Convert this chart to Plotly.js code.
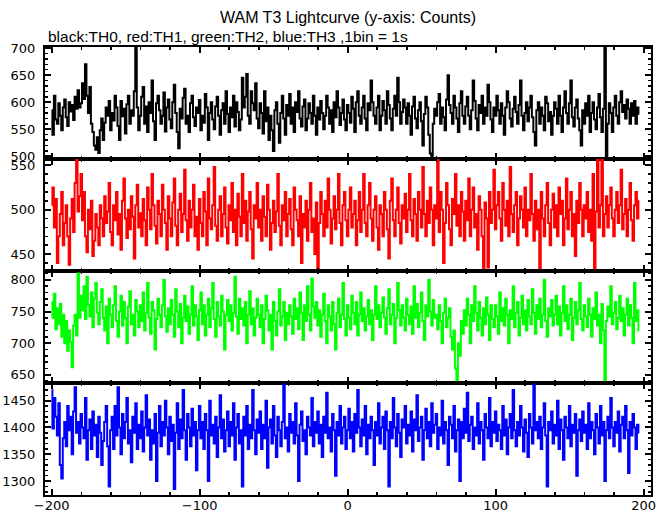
<!DOCTYPE html>
<html>
<head>
<meta charset="utf-8">
<script src="https://cdn.plot.ly/plotly-3.0.1.min.js"></script>
<style>html,body{margin:0;padding:0;background:#fff;}#chart{width:669px;height:515px;}</style>
</head>
<body>
<div id="chart"></div>
<script>
// Time bins: 1 bin = 1 s, first bin centre at -200 s
const binStart = -200;
const binWidth = 1;

// TH0 (black) counts per bin
const th0 = [
585,540,612,568,560,598,575,548,590,605,572,556,600,583,595,567,610,588,622,590,
598,635,606,670,612,580,628,560,545,520,512,535,506,548,570,530,562,590,575,602,
548,580,566,612,590,556,530,602,574,588,542,596,612,560,585,575,620,725,590,548,
575,610,628,560,592,545,600,580,640,565,530,598,612,585,560,575,618,546,590,605,
568,552,600,632,580,545,515,588,570,608,625,560,575,545,598,612,572,556,590,580,
604,548,575,562,615,590,530,580,600,568,550,592,610,575,540,585,598,560,620,578,
545,590,572,612,555,600,582,548,568,645,590,610,652,575,560,620,598,585,635,570,
552,598,580,542,620,565,590,530,575,548,510,585,600,560,525,580,612,570,540,595,
575,615,560,590,545,600,582,620,570,555,592,605,548,570,598,580,560,612,575,540,
590,568,602,580,550,575,612,590,560,585,545,600,572,620,590,558,580,605,568,548,
595,580,562,610,588,545,600,620,575,560,590,612,570,548,598,585,640,600,575,560,
590,612,548,575,602,585,560,620,595,570,548,588,612,575,645,600,560,582,605,590,
560,598,575,540,592,610,570,552,585,600,565,520,578,610,590,540,505,498,560,588,
575,600,615,560,590,572,548,605,650,595,580,560,612,590,570,545,598,620,575,560,
592,610,575,550,585,640,602,570,548,595,580,612,560,590,575,632,600,568,545,590,
575,612,585,560,598,575,540,590,620,600,570,555,588,610,582,560,595,640,575,548,
580,600,565,590,612,572,545,520,585,600,560,590,575,548,610,598,565,582,540,575,
600,588,560,612,575,545,590,620,580,560,598,640,572,555,590,605,570,548,520,585,
560,598,575,612,545,580,600,568,550,590,615,572,545,588,720,495,560,598,580,545,
590,612,575,560,600,620,582,595,570,605,588,560,598,575,602,560,590,578
];

// TH1 (red) counts per bin
const th1 = [
505,525,480,512,440,470,495,520,460,485,505,470,438,490,512,475,530,556,498,515,
540,488,520,470,452,500,478,510,448,465,495,480,460,505,490,470,515,485,498,530,
475,460,505,488,520,472,495,455,510,535,490,468,500,478,515,492,445,505,528,480,
496,470,512,488,460,525,500,478,540,505,482,462,510,495,470,528,500,485,455,515,
490,470,508,535,482,460,500,518,475,495,545,488,465,510,480,500,528,470,492,455,
512,485,470,520,498,460,535,490,478,505,548,482,465,500,515,470,495,525,480,462,
505,488,530,475,500,460,518,492,470,540,485,510,465,498,520,478,445,505,490,530,
480,500,465,515,492,470,528,500,455,485,510,475,498,540,482,460,505,488,520,470,
495,512,478,460,525,500,488,470,515,440,495,480,510,465,500,530,475,490,450,508,
432,485,520,495,470,510,480,535,500,462,490,515,478,500,540,485,460,505,520,488,
470,500,525,480,495,510,460,488,520,475,500,540,485,470,505,530,490,465,500,515,
480,455,505,495,470,520,500,478,445,510,535,488,470,500,525,485,462,505,490,518,
475,500,540,488,470,512,495,465,520,500,480,548,495,470,510,485,525,500,460,505,
490,558,475,520,500,440,485,530,505,478,460,512,495,540,482,505,470,520,498,465,
510,488,535,470,500,525,480,495,455,515,500,470,432,508,490,435,520,485,500,545,
478,505,520,490,465,530,500,482,510,470,548,495,475,505,520,460,490,515,500,480,
525,470,500,488,540,495,465,510,478,500,432,520,490,470,505,530,485,460,500,518,
480,505,470,525,495,510,460,490,535,478,500,520,470,495,448,510,485,530,500,470,
505,490,520,475,500,465,540,432,498,556,480,505,558,470,495,515,480,505,525,490,
470,500,520,485,505,545,478,495,512,470,500,530,488,465,505,520,490,510
];

// TH2 (green) counts per bin
const th2 = [
765,740,778,722,755,730,762,710,745,700,735,688,720,702,662,728,745,712,810,740,
775,752,790,738,805,760,742,780,725,770,795,748,730,765,785,740,720,758,700,770,
745,725,760,790,735,710,750,775,728,765,740,700,758,782,730,745,712,768,750,725,
760,735,780,720,748,795,740,715,765,752,690,738,770,745,725,760,800,742,718,755,
730,768,745,710,785,750,725,762,700,740,775,735,758,715,745,790,728,760,742,705,
752,780,730,760,712,745,770,725,755,795,738,710,765,742,728,775,750,690,745,768,
735,760,720,748,805,742,715,770,738,755,728,765,700,745,782,730,755,712,740,770,
745,725,760,700,738,775,752,720,745,690,765,735,712,750,785,728,742,765,705,748,
730,760,742,715,770,738,755,722,780,748,705,760,735,790,745,720,802,758,740,765,
728,752,710,745,778,735,700,760,742,720,765,730,690,748,770,725,745,795,738,712,
760,740,722,775,748,730,765,712,745,780,735,755,720,742,768,730,752,705,745,790,
738,760,725,748,772,740,715,755,785,730,745,762,700,740,795,752,728,760,740,720,
770,745,730,758,715,790,740,762,725,748,780,735,705,760,742,800,750,728,768,740,
745,722,760,735,700,748,770,725,740,755,710,690,720,660,641,700,680,735,715,752,
728,770,745,700,760,735,790,748,720,765,740,712,755,730,772,745,705,760,738,725,
760,742,715,780,735,755,728,770,745,700,752,738,790,725,748,765,712,740,775,730,
752,720,768,742,730,785,748,715,760,738,770,725,745,800,735,710,755,742,768,728,
745,775,730,758,712,748,790,735,760,722,745,770,705,740,765,730,752,795,738,720,
760,742,725,770,745,710,755,738,780,728,745,700,762,720,640,735,758,742,790,730,
748,765,722,740,775,735,755,712,745,770,728,760,740,700,795,735,752,720
];

// TH3 (blue) counts per bin
const th3 = [
1470,1398,1455,1420,1385,1445,1330,1305,1380,1410,1365,1440,1395,1420,1350,1430,1475,1390,1410,1370,
1425,1400,1380,1455,1340,1395,1415,1360,1430,1385,1405,1345,1420,1390,1330,1375,1410,1440,1365,1290,
1395,1420,1360,1440,1385,1475,1400,1350,1425,1380,1410,1455,1370,1395,1335,1420,1390,1445,1360,1405,
1380,1430,1355,1400,1460,1385,1415,1340,1395,1370,1425,1300,1390,1440,1365,1410,1385,1450,1400,1350,
1420,1375,1405,1285,1390,1445,1360,1415,1380,1470,1395,1340,1425,1400,1365,1435,1385,1410,1320,1395,
1440,1380,1410,1360,1425,1395,1300,1450,1385,1405,1370,1420,1345,1400,1460,1380,1415,1355,1395,1430,
1365,1410,1385,1445,1340,1400,1425,1370,1395,1290,1420,1385,1440,1360,1405,1380,1470,1395,1350,1415,
1390,1430,1360,1405,1380,1450,1325,1400,1415,1370,1440,1385,1345,1420,1395,1365,1410,1480,1380,1400,
1355,1425,1390,1410,1370,1445,1385,1300,1405,1430,1375,1395,1350,1420,1400,1385,1455,1365,1410,1390,
1430,1370,1405,1345,1420,1390,1465,1380,1400,1355,1425,1395,1310,1410,1385,1440,1370,1400,1420,1360,
1395,1435,1380,1410,1355,1425,1390,1470,1400,1365,1415,1385,1440,1350,1405,1380,1420,1395,1330,1410,
1385,1445,1370,1400,1420,1360,1430,1395,1290,1410,1380,1455,1400,1365,1425,1390,1345,1415,1400,1440,
1370,1405,1385,1430,1355,1415,1395,1460,1375,1400,1420,1340,1395,1435,1380,1410,1365,1445,1390,1405,
1425,1360,1400,1385,1450,1370,1410,1395,1330,1420,1405,1380,1440,1355,1395,1415,1300,1410,1380,1435,
1390,1465,1375,1405,1420,1360,1400,1385,1445,1370,1410,1395,1340,1425,1400,1380,1455,1365,1410,1390,
1430,1375,1405,1395,1360,1440,1385,1415,1350,1400,1425,1380,1470,1395,1365,1410,1385,1440,1400,1355,
1415,1390,1345,1425,1400,1370,1480,1395,1410,1380,1420,1360,1400,1445,1385,1290,1410,1395,1430,1370,
1405,1385,1450,1360,1415,1395,1340,1420,1400,1380,1440,1365,1405,1390,1425,1310,1395,1415,1375,1430,
1390,1405,1360,1445,1380,1410,1395,1350,1425,1400,1370,1440,1385,1410,1300,1395,1420,1380,1455,1400,
1365,1410,1390,1430,1355,1405,1420,1380,1440,1395,1315,1410,1385,1425,1400,1360,1405,1390
];

const seriesNames = ['TH0', 'TH1', 'TH2', 'TH3'];
const seriesColors = ['#000000', '#ff0000', '#00ff00', '#0000ff'];
const yRanges = [[495, 702], [431, 557], [637, 814], [1274, 1483]];
const xRange = [-204.5, 205];
const titleText = 'WAM T3 Lightcurve (y-axis: Counts)';
const subtitleText = 'black:TH0, red:TH1, green:TH2, blue:TH3 ,1bin = 1s';

const allSeries = [th0, th1, th2, th3];
const traces = allSeries.map((vals, i) => {
  const t = vals.map((_, k) => binStart + k * binWidth);
  return {
    x: t, y: vals, type: 'scatter', mode: 'lines', name: seriesNames[i],
    line: {color: seriesColors[i], width: 2, shape: 'hvh'},
    xaxis: i === 0 ? 'x' : 'x' + (i + 1),
    yaxis: i === 0 ? 'y' : 'y' + (i + 1),
    hoverinfo: 'skip'
  };
});

const tickFont = {family: 'DejaVu Sans, Arial, sans-serif', size: 13, color: '#000'};
const layout = {
  width: 669, height: 515,
  margin: {l: 45, r: 18, t: 47, b: 20, pad: 0},
  paper_bgcolor: '#fff', plot_bgcolor: '#fff',
  showlegend: false,
  title: {text: titleText, x: 0.5, xanchor: 'center', xref: 'paper', y: 1 - 17/515, yanchor: 'middle', yref: 'container',
          font: {family: 'Liberation Sans, Arial, sans-serif', size: 16, color: '#000'}},
  annotations: [{text: subtitleText, xref: 'paper', yref: 'paper', x: (46 - 45)/606, y: 1 + (47 - 36)/448,
                 xanchor: 'left', yanchor: 'middle', showarrow: false,
                 font: {family: 'Liberation Sans, Arial, sans-serif', size: 15.5, color: '#000'}}]
};

for (let i = 0; i < 4; i++) {
  const sfx = i === 0 ? '' : String(i + 1);
  const top = 1 - i * 0.25, bot = 1 - (i + 1) * 0.25;
  layout['xaxis' + sfx] = {
    range: xRange, anchor: 'y' + sfx, matches: i === 0 ? undefined : 'x',
    showgrid: false, zeroline: false, showline: true, linecolor: '#000', linewidth: 2, mirror: 'ticks',
    ticks: 'inside', ticklen: 6, tickwidth: 2, tickcolor: '#000', dtick: 100, tick0: 0,
    minor: {ticks: 'inside', ticklen: 3, tickwidth: 1.5, tickcolor: '#000', dtick: 20, showgrid: false},
    showticklabels: i === 3, tickfont: tickFont, ticklabelstandoff: -3
  };
  layout['yaxis' + sfx] = {
    domain: [bot, top], range: yRanges[i], anchor: 'x' + sfx,
    showgrid: false, zeroline: false, showline: true, linecolor: '#000', linewidth: 2, mirror: 'ticks',
    ticks: 'inside', ticklen: 6, tickwidth: 2, tickcolor: '#000', dtick: 50, tick0: 0,
    minor: {ticks: 'inside', ticklen: 3, tickwidth: 1.5, tickcolor: '#000', dtick: 10, showgrid: false},
    tickfont: tickFont, ticklabelstandoff: 5
  };
}

Plotly.newPlot('chart', traces, layout, {staticPlot: true, displayModeBar: false});
</script>
</body>
</html>
